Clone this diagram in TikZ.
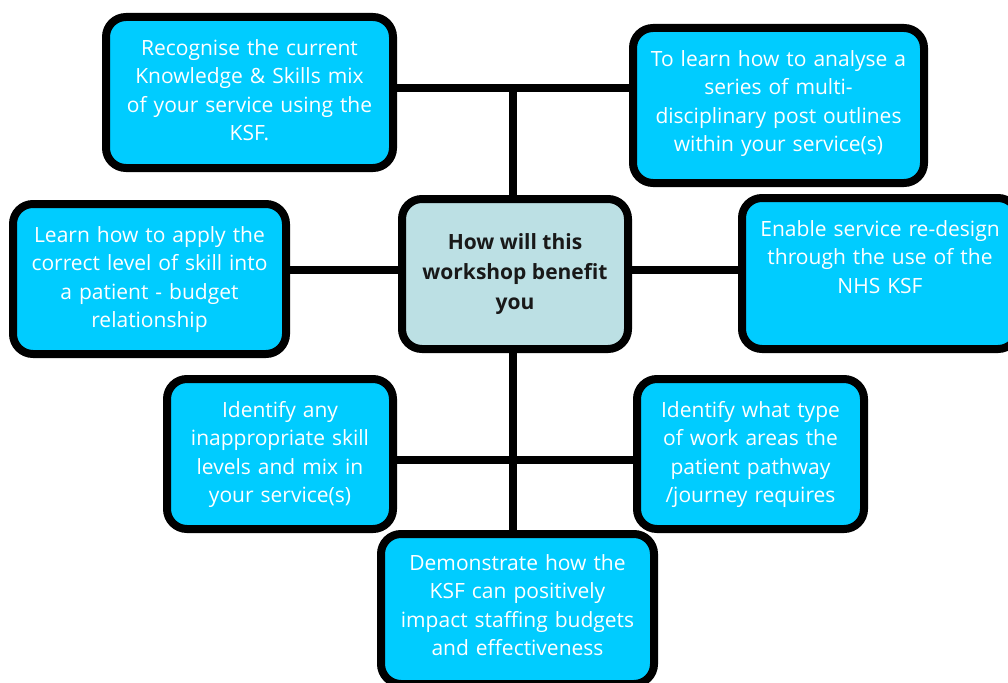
\documentclass[tikz,border=0pt]{standalone}
\usepackage{fontspec}
\setmainfont{Open Sans}
\usetikzlibrary{positioning}
\definecolor{ksfblue}{RGB}{0,204,255}
\definecolor{ksfgrey}{RGB}{188,224,228}
\tikzset{
  goal/.style={draw=black, line width=8pt, rounded corners=20pt, fill=ksfblue, inner sep=0pt},
  goaltext/.style={text=white, text width=270pt, align=center, text height=20pt, inner sep=0pt,
    font=\fontsize{21}{28.5}\selectfont},
  link/.style={line width=7.5pt}
}
\begin{document}
\begin{tikzpicture}[x=1pt,y=-1pt]
\useasboundingbox (0,0) rectangle (1008,682);
% boxes
\node[goal, fill=ksfgrey, minimum width=226pt, minimum height=150pt, text=black!90,
  align=center, font=\fontsize{21}{30}\selectfont\bfseries] (benefit) at (515,274)
  {How will this\\ workshop benefit\\ you};
\node[goal, minimum width=287pt, minimum height=151pt] (recog) at (249.5,92.5) {};
\node[goal, minimum width=291pt, minimum height=155pt] (analyse) at (778.5,105.5) {};
\node[goal, minimum width=273pt, minimum height=150pt] (apply) at (149.5,279) {};
\node[goal, minimum width=276pt, minimum height=151pt] (redesign) at (880,273.5) {};
\node[goal, minimum width=226pt, minimum height=150pt] (mixcheck) at (280,454) {};
\node[goal, minimum width=227pt, minimum height=150pt] (pathway) at (750.5,454) {};
\node[goal, minimum width=273pt, minimum height=150pt] (budget) at (517.5,609) {};
% texts
\node[goaltext, below=22pt of recog.north] (recogtext)
  {Recognise the current\\ Knowledge \& Skills mix\\ of your service using the\\ KSF.};
\node[goaltext, below=22pt of analyse.north] (analysetext)
  {To learn how to analyse a\\ series of multi-\\ disciplinary post outlines\\ within your service(s)};
\node[goaltext, below=22pt of apply.north] (applytext)
  {Learn how to apply the\\ correct level of skill into\\ a patient - budget\\ relationship};
\node[goaltext, below=22pt of redesign.north] (redesigntext)
  {Enable service re-design\\ through the use of the\\ NHS KSF};
\node[goaltext, below=22pt of mixcheck.north] (mixchecktext)
  {Identify any\\ inappropriate skill\\ levels and mix in\\ your service(s)};
\node[goaltext, below=22pt of pathway.north] (pathwaytext)
  {Identify what type\\ of work areas the\\ patient pathway\\ /journey requires};
\node[goaltext, below=20pt of budget.north] (budgettext)
  {Demonstrate how the\\ KSF can positively\\ impact staffing budgets\\ and effectiveness};
% connectors
\coordinate (topjoin) at (513,88);
\coordinate (midjoin) at (513,270);
\coordinate (lowjoin) at (513,460);
\draw[link] (recog.east |- topjoin) -- (analyse.west |- topjoin);
\draw[link] (topjoin) -- (benefit.north -| topjoin);
\draw[link] (apply.east |- midjoin) -- (benefit.west |- midjoin);
\draw[link] (benefit.east |- midjoin) -- (redesign.west |- midjoin);
\draw[link] (mixcheck.east |- lowjoin) -- (pathway.west |- lowjoin);
\draw[link] (benefit.south -| lowjoin) -- (budget.north -| lowjoin);
\end{tikzpicture}
\end{document}
